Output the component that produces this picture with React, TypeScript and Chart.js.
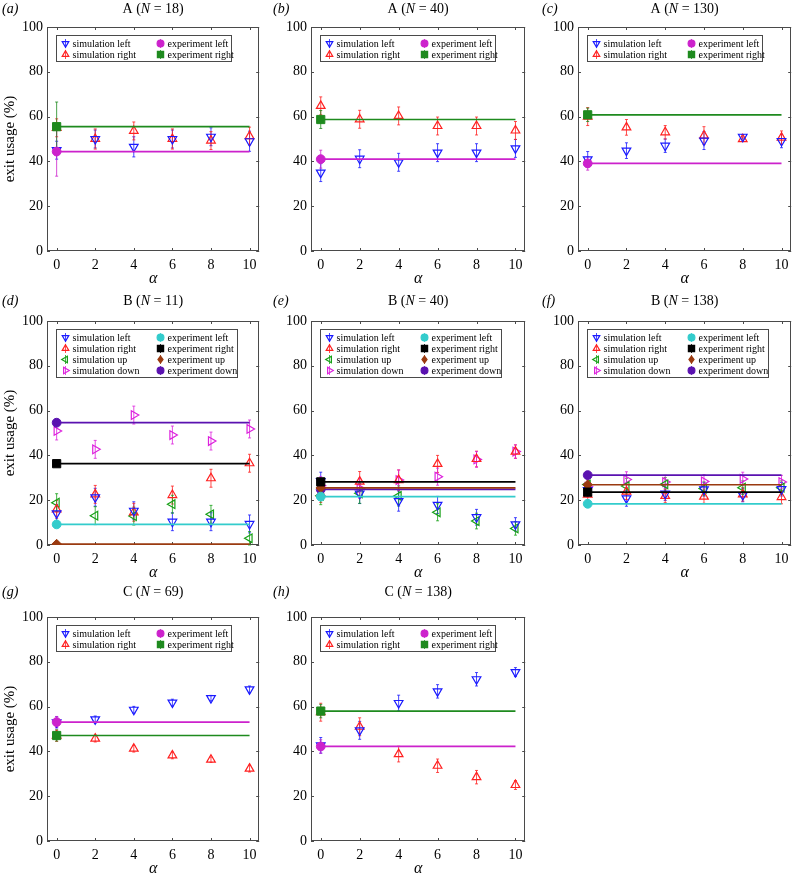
import React, { useEffect, useRef } from 'react';
import { Chart, registerables } from 'chart.js';
Chart.register(...registerables);

const SERIF = '"Liberation Serif", "Times New Roman", serif';

// ---------- data ----------
const alpha = [0, 2, 4, 6, 8, 10];
const xTicks = [0, 2, 4, 6, 8, 10];
const yTicks = [0, 20, 40, 60, 80, 100];

const panelTags = ['a', 'b', 'c', 'd', 'e', 'f', 'g', 'h'];
const panelGroups = ['A', 'A', 'A', 'B', 'B', 'B', 'C', 'C'];
const panelN = [18, 40, 130, 11, 40, 138, 69, 138];

const simLabels2 = ['simulation left', 'simulation right'];
const simLabels4 = ['simulation left', 'simulation right', 'simulation up', 'simulation down'];
const expLabels2 = ['experiment left', 'experiment right'];
const expLabels4 = ['experiment left', 'experiment right', 'experiment up', 'experiment down'];

// (a) A, N = 18
const aSimLeft = [45, 50, 46.5, 50, 51, 49];
const aSimLeftErr = [4, 4, 4.5, 4, 4, 4.5];
const aSimRight = [55, 50, 53.6, 50, 49.3, 51.3];
const aSimRightErr = [4, 4.5, 4, 4.5, 4, 4];
const aExp = [44.4, 55.5];
const aExpErr = [11, 11];

// (b) A, N = 40
const bSimLeft = [35, 41.2, 39.6, 43.9, 43.9, 45.8];
const bSimLeftErr = [4, 4, 4, 4, 4, 4];
const bSimRight = [64.8, 58.8, 60.3, 55.8, 55.8, 53.8];
const bSimRightErr = [4, 4, 4, 4, 4, 4];
const bExp = [41, 58.7];
const bExpErr = [4, 4];

// (c) A, N = 130
const cSimLeft = [40.9, 44.8, 47, 49.3, 51, 49.1];
const cSimLeftErr = [3.5, 3.5, 3, 4, 1, 3];
const cSimRight = [60, 55.2, 53, 51.5, 49.9, 50.6];
const cSimRightErr = [4, 3.5, 3, 4, 1, 3];
const cExp = [39.1, 60.8];
const cExpErr = [3, 3];

// (d) B, N = 11
const dSimLeft = [14.1, 21.3, 15.3, 10.4, 10.4, 9.4];
const dSimRight = [15.9, 22.6, 14.6, 22.3, 29.8, 36.5];
const dSimUp = [18.9, 13.1, 12.9, 18.2, 13.7, 3];
const dSimDown = [50.9, 42.7, 58, 49.1, 46.4, 51.8];
const dSimErr = [4, 4, 4, 4, 4, 4];
const dSimUpErr = [4, 4, 4, 4, 4, 3];
const dExp = [9.2, 36.3, 0.4, 54.6];
const dExpErr = [0, 0, 0, 0];

// (e) B, N = 40
const eSimLeft = [28.5, 23, 19.6, 17.9, 12.4, 9.2];
const eSimRight = [23, 28.3, 29, 36.2, 38.4, 41.7];
const eSimUp = [22, 23.1, 21.9, 14.6, 10.7, 7.4];
const eSimDown = [26.5, 25.3, 29, 30.5, 38.2, 41.7];
const eSimErr = [4, 4.5, 4.5, 3.8, 3.5, 3];
const eExp = [21.6, 28.2, 25.5, 24.8];
const eExpErr = [0, 0, 0, 0];

// (f) B, N = 138
const fSimLeft = [24.5, 20.8, 22.9, 24.8, 22.3, 24.9];
const fSimRight = [22.5, 23.8, 21.9, 21.6, 22.6, 21.4];
const fSimUp = [27, 26.3, 27.1, 25.2, 25.6, 25.6];
const fSimDown = [26, 29.2, 28.1, 28.4, 29.5, 28.1];
const fSimErr = [3, 3.5, 3, 3, 3, 3];
const fExp = [18.4, 23.6, 26.9, 31.2];
const fExpErr = [0, 0, 0, 0];

// (g) C, N = 69
const gSimLeft = [53, 54.3, 58.6, 61.8, 63.8, 67.7];
const gSimRight = [47, 45.7, 41.2, 38.2, 36.3, 32.3];
const gSimErr = [2.5, 1.5, 1.5, 1.5, 1.2, 1.5];
const gExp = [53.1, 47.1];
const gExpErr = [2.5, 2.5];

// (h) C, N = 138
const hSimLeft = [42.7, 49.4, 61.6, 66.8, 72.2, 75.4];
const hSimLeftErr = [3.5, 4, 3.5, 3, 3, 2];
const hSimRight = [57.5, 51, 38.8, 33.6, 28.5, 25];
const hSimRightErr = [4, 4, 3.5, 3, 3, 2];
const hExp = [42.2, 58];
const hExpErr = [3, 3];

// ---------- styles ----------
const simStyles = [
  { color: '#1a1aff', rot: 180 },
  { color: '#ff2020', rot: 0 },
  { color: '#16a016', rot: 270 },
  { color: '#dd22dd', rot: 90 },
];
const expStylesAC = [
  { color: '#cc22cc', shape: 'circle', r: 4.4 },
  { color: '#1e8a1e', shape: 'rect', r: 5.8 },
];
const expStylesB = [
  { color: '#33cccc', shape: 'circle', r: 4.4 },
  { color: '#000000', shape: 'rect', r: 5.8 },
  { color: '#9a3a10', shape: 'rectRot', r: 4.8 },
  { color: '#5a12b0', shape: 'circle', r: 4.4 },
];

// ---------- layout ----------
const colFrameL = [47, 311, 578];
const colFrameR = [265, 529, 794];
const rowFrameT = [27, 321, 617];
const rowFrameB = [251, 545, 841];
const colCanvasL = [0, 266, 532];
const rowCanvasT = [0, 290, 576];
const CW = 266;
const CH = 300;
const YW = 30;
const XH = 30;
const tagX = [2, 273, 542];
const titleY = [9, 301, 592];

type Sim = { label: string; values: number[]; err: number[]; color: string; rot: number };
type Exp = { label: string; value: number; err: number; color: string; shape: string; r: number };
type Panel = { idx: number; col: number; row: number; sims: Sim[]; exps: Exp[] };

function sims(labels: string[], vals: number[][], errs: number[][]): Sim[] {
  return labels.map((l, i) => ({ label: l, values: vals[i], err: errs[i], color: simStyles[i].color, rot: simStyles[i].rot }));
}
function exps(labels: string[], vals: number[], errs: number[], styles: any[]): Exp[] {
  return labels.map((l, i) => ({ label: l, value: vals[i], err: errs[i], ...styles[i] }));
}

const panels: Panel[] = [
  { idx: 0, col: 0, row: 0, sims: sims(simLabels2, [aSimLeft, aSimRight], [aSimLeftErr, aSimRightErr]), exps: exps(expLabels2, aExp, aExpErr, expStylesAC) },
  { idx: 1, col: 1, row: 0, sims: sims(simLabels2, [bSimLeft, bSimRight], [bSimLeftErr, bSimRightErr]), exps: exps(expLabels2, bExp, bExpErr, expStylesAC) },
  { idx: 2, col: 2, row: 0, sims: sims(simLabels2, [cSimLeft, cSimRight], [cSimLeftErr, cSimRightErr]), exps: exps(expLabels2, cExp, cExpErr, expStylesAC) },
  { idx: 3, col: 0, row: 1, sims: sims(simLabels4, [dSimLeft, dSimRight, dSimUp, dSimDown], [dSimErr, dSimErr, dSimUpErr, dSimErr]), exps: exps(expLabels4, dExp, dExpErr, expStylesB) },
  { idx: 4, col: 1, row: 1, sims: sims(simLabels4, [eSimLeft, eSimRight, eSimUp, eSimDown], [eSimErr, eSimErr, eSimErr, eSimErr]), exps: exps(expLabels4, eExp, eExpErr, expStylesB) },
  { idx: 5, col: 2, row: 1, sims: sims(simLabels4, [fSimLeft, fSimRight, fSimUp, fSimDown], [fSimErr, fSimErr, fSimErr, fSimErr]), exps: exps(expLabels4, fExp, fExpErr, expStylesB) },
  { idx: 6, col: 0, row: 2, sims: sims(simLabels2, [gSimLeft, gSimRight], [gSimErr, gSimErr]), exps: exps(expLabels2, gExp, gExpErr, expStylesAC) },
  { idx: 7, col: 1, row: 2, sims: sims(simLabels2, [hSimLeft, hSimRight], [hSimLeftErr, hSimRightErr]), exps: exps(expLabels2, hExp, hExpErr, expStylesAC) },
];

function drawMarker(ctx: CanvasRenderingContext2D, shape: string, x: number, y: number, r: number, color: string, filled: boolean, rotDeg: number) {
  ctx.save();
  ctx.beginPath();
  if (shape === 'triangle') {
    let rad = (rotDeg * Math.PI) / 180;
    ctx.moveTo(x + Math.sin(rad) * r, y - Math.cos(rad) * r);
    rad += (2 * Math.PI) / 3;
    ctx.lineTo(x + Math.sin(rad) * r, y - Math.cos(rad) * r);
    rad += (2 * Math.PI) / 3;
    ctx.lineTo(x + Math.sin(rad) * r, y - Math.cos(rad) * r);
    ctx.closePath();
  } else if (shape === 'circle') {
    ctx.arc(x, y, r, 0, Math.PI * 2);
  } else if (shape === 'rect') {
    const s = r * Math.SQRT1_2;
    ctx.rect(x - s, y - s, 2 * s, 2 * s);
  } else {
    ctx.moveTo(x, y - r);
    ctx.lineTo(x + r * 0.75, y);
    ctx.lineTo(x, y + r);
    ctx.lineTo(x - r * 0.75, y);
    ctx.closePath();
  }
  if (filled) {
    ctx.fillStyle = color;
    ctx.fill();
  }
  ctx.strokeStyle = color;
  ctx.lineWidth = 1.2;
  ctx.stroke();
  ctx.restore();
}

function makeDecor(p: Panel) {
  return {
    id: 'panelDecor' + p.idx,
    beforeDatasetsDraw(chart: any) {
      const { ctx, chartArea: a, scales } = chart;
      const xs = scales.x;
      const ys = scales.y;
      ctx.save();
      ctx.strokeStyle = '#4a4a4a';
      ctx.lineWidth = 1;
      ctx.strokeRect(Math.round(a.left) + 0.5, Math.round(a.top) + 0.5, Math.round(a.width) - 1, Math.round(a.height) - 1);
      ctx.beginPath();
      for (const v of xTicks) {
        const px = Math.round(xs.getPixelForValue(v)) + 0.5;
        ctx.moveTo(px, a.bottom);
        ctx.lineTo(px, a.bottom - 3);
        ctx.moveTo(px, a.top);
        ctx.lineTo(px, a.top + 3);
      }
      for (const v of yTicks) {
        const py = Math.round(ys.getPixelForValue(v)) + 0.5;
        ctx.moveTo(a.left, py);
        ctx.lineTo(a.left + 3, py);
        ctx.moveTo(a.right, py);
        ctx.lineTo(a.right - 3, py);
      }
      ctx.stroke();
      // error bars
      chart.data.datasets.forEach((ds: any, di: number) => {
        const errs: number[] | undefined = ds.errs;
        if (!errs) return;
        const meta = chart.getDatasetMeta(di);
        ctx.strokeStyle = ds.errColor;
        ctx.globalAlpha = 0.8;
        ctx.lineWidth = 1;
        meta.data.forEach((pt: any, i: number) => {
          const e = errs[i];
          if (!e) return;
          const v = ds.data[i].y;
          const y1 = ys.getPixelForValue(v + e);
          const y2 = ys.getPixelForValue(v - e);
          ctx.beginPath();
          ctx.moveTo(pt.x, y1);
          ctx.lineTo(pt.x, y2);
          ctx.moveTo(pt.x - 1.5, y1);
          ctx.lineTo(pt.x + 1.5, y1);
          ctx.moveTo(pt.x - 1.5, y2);
          ctx.lineTo(pt.x + 1.5, y2);
          ctx.stroke();
        });
        ctx.globalAlpha = 1;
      });
      ctx.restore();
    },
    afterDraw(chart: any) {
      const { ctx, chartArea: a } = chart;
      const cL = colCanvasL[p.col];
      const cT = rowCanvasT[p.row];
      ctx.save();
      ctx.fillStyle = '#000';
      ctx.textBaseline = 'middle';
      // tag
      ctx.textAlign = 'left';
      ctx.font = 'italic 14px ' + SERIF;
      ctx.fillText('(' + panelTags[p.idx] + ')', tagX[p.col] - cL, titleY[p.row] - cT);
      // title with italic N
      const parts = [
        { t: panelGroups[p.idx] + ' (', f: '14px ' + SERIF },
        { t: 'N', f: 'italic 14px ' + SERIF },
        { t: ' = ' + panelN[p.idx] + ')', f: '14px ' + SERIF },
      ];
      let total = 0;
      for (const s of parts) {
        ctx.font = s.f;
        total += ctx.measureText(s.t).width;
      }
      let x = (a.left + a.right) / 2 - total / 2;
      for (const s of parts) {
        ctx.font = s.f;
        ctx.fillText(s.t, x, titleY[p.row] - cT);
        x += ctx.measureText(s.t).width;
      }
      // x title
      ctx.textAlign = 'center';
      ctx.font = 'italic 16px ' + SERIF;
      ctx.fillText('α', (a.left + a.right) / 2, a.bottom + 28);
      // y title
      if (p.col === 0) {
        ctx.save();
        ctx.translate(10 - cL, (a.top + a.bottom) / 2);
        ctx.rotate(-Math.PI / 2);
        ctx.font = '15px ' + SERIF;
        ctx.fillText('exit usage (%)', 0, 0);
        ctx.restore();
      }
      // legend
      const n = p.sims.length;
      const bx = Math.round(a.left + 9) + 0.5;
      const by = Math.round(a.top + 8) + 0.5;
      const bw = n === 2 ? 175 : 181;
      const rowH = 11;
      const bh = 8 + (n - 1) * rowH + 7;
      ctx.fillStyle = '#fff';
      ctx.fillRect(bx, by, bw, bh);
      ctx.strokeStyle = '#4a4a4a';
      ctx.lineWidth = 1;
      ctx.strokeRect(bx, by, bw, bh);
      ctx.font = '10px ' + SERIF;
      ctx.textAlign = 'left';
      const drawEntry = (cx: number, cy: number, label: string, shape: string, color: string, filled: boolean, rot: number, r: number) => {
        ctx.save();
        ctx.strokeStyle = color;
        ctx.globalAlpha = 0.8;
        ctx.lineWidth = 1;
        ctx.beginPath();
        ctx.moveTo(cx, cy - 4.5);
        ctx.lineTo(cx, cy + 4.5);
        ctx.stroke();
        ctx.restore();
        drawMarker(ctx, shape, cx, cy, r, color, filled, rot);
        ctx.fillStyle = '#000';
        ctx.fillText(label, cx + 7, cy + 0.5);
      };
      p.sims.forEach((s, i) => {
        drawEntry(bx + 9, by + 8 + i * rowH, s.label, 'triangle', s.color, false, s.rot, 3.8);
      });
      p.exps.forEach((e, i) => {
        drawEntry(bx + 104, by + 8 + i * rowH, e.label, e.shape, e.color, true, 0, e.shape === 'rect' ? 4.4 : 3.4);
      });
      ctx.restore();
    },
  };
}

function buildConfig(p: Panel): any {
  const datasets: any[] = [];
  p.sims.forEach((s) => {
    datasets.push({
      label: s.label,
      data: alpha.map((x, i) => ({ x, y: s.values[i] })),
      errs: s.err,
      errColor: s.color,
      pointStyle: 'triangle',
      pointRotation: s.rot,
      pointRadius: 5,
      pointBorderColor: s.color,
      pointBackgroundColor: 'rgba(255,255,255,0)',
      pointBorderWidth: 1.2,
      borderColor: s.color,
      backgroundColor: s.color,
      showLine: false,
      order: 1,
    });
  });
  p.exps.forEach((e) => {
    datasets.push({
      label: e.label,
      data: [
        { x: alpha[0], y: e.value },
        { x: alpha[alpha.length - 1], y: e.value },
      ],
      errs: [e.err, 0],
      errColor: e.color,
      pointStyle: e.shape,
      pointRadius: [e.r, 0],
      pointBackgroundColor: e.color,
      pointBorderColor: e.color,
      pointBorderWidth: 1,
      borderColor: e.color,
      backgroundColor: e.color,
      borderWidth: 1.7,
      showLine: true,
      tension: 0,
      order: 0,
    });
  });
  const cL = colCanvasL[p.col];
  const cT = rowCanvasT[p.row];
  return {
    type: 'scatter',
    data: { datasets },
    options: {
      responsive: false,
      animation: false,
      events: [],
      devicePixelRatio: 1,
      layout: {
        padding: {
          left: colFrameL[p.col] - cL - YW,
          right: cL + CW - colFrameR[p.col],
          top: rowFrameT[p.row] - cT,
          bottom: cT + CH - rowFrameB[p.row] - XH,
        },
      },
      plugins: { legend: { display: false }, tooltip: { enabled: false }, title: { display: false } },
      scales: {
        x: {
          type: 'linear',
          min: -0.5,
          max: 10.5,
          afterBuildTicks: (sc: any) => {
            sc.ticks = xTicks.map((v) => ({ value: v }));
          },
          afterFit: (sc: any) => {
            sc.height = XH;
          },
          grid: { display: false, drawTicks: false },
          border: { display: false },
          ticks: { padding: 6, color: '#000', font: { family: SERIF, size: 14 }, maxRotation: 0, autoSkip: false },
        },
        y: {
          type: 'linear',
          min: 0,
          max: 100,
          afterBuildTicks: (sc: any) => {
            sc.ticks = yTicks.map((v) => ({ value: v }));
          },
          afterFit: (sc: any) => {
            sc.width = YW;
          },
          grid: { display: false, drawTicks: false },
          border: { display: false },
          ticks: { padding: 4, color: '#000', font: { family: SERIF, size: 14 }, autoSkip: false },
        },
      },
    },
    plugins: [makeDecor(p)],
  };
}

function PanelChart({ p }: { p: Panel }) {
  const ref = useRef<HTMLCanvasElement | null>(null);
  useEffect(() => {
    if (!ref.current) return;
    const chart = new Chart(ref.current, buildConfig(p));
    return () => chart.destroy();
  }, [p]);
  return (
    <canvas
      ref={ref}
      width={CW}
      height={CH}
      style={{ position: 'absolute', left: colCanvasL[p.col], top: rowCanvasT[p.row], width: CW, height: CH }}
    />
  );
}

export default function App() {
  return (
    <div style={{ position: 'absolute', left: 0, top: 0, width: 798, height: 876, background: '#fff', overflow: 'hidden' }}>
      {panels.map((p) => (
        <PanelChart key={p.idx} p={p} />
      ))}
    </div>
  );
}
